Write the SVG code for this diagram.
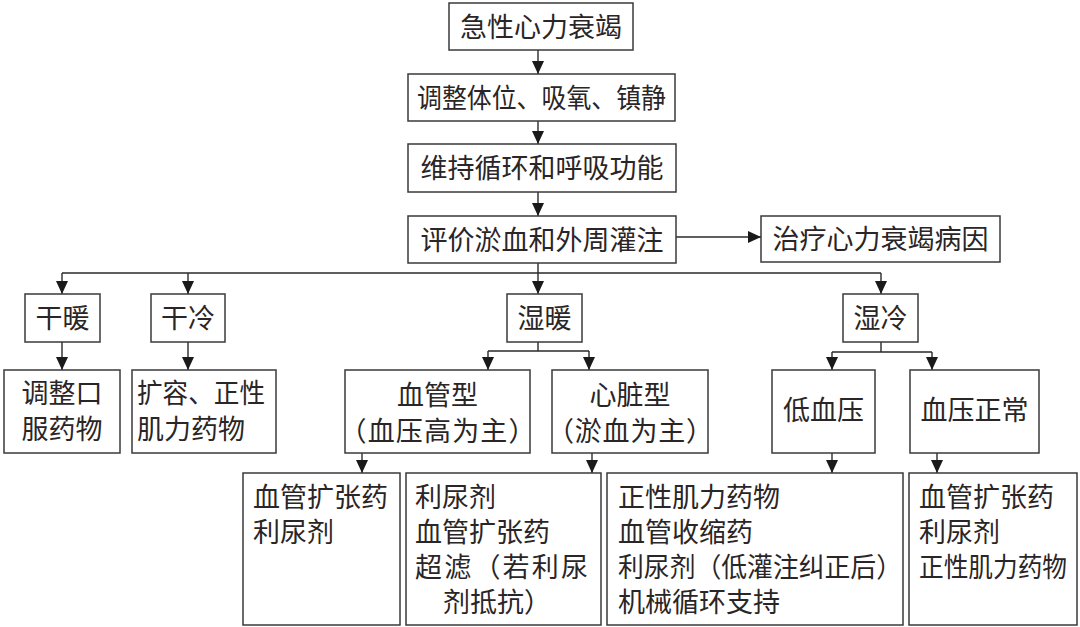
<svg xmlns="http://www.w3.org/2000/svg" width="1080" height="627" viewBox="0 0 1080 627">
<style>
.box{fill:#fff;stroke:#3a3a3a;stroke-width:1.5}
.ln{fill:none;stroke:#2a2a2a;stroke-width:1.4}
.t{font-family:"Noto Sans CJK SC","Noto Sans CJK JP",sans-serif;font-size:27px;fill:#2a2526}
.c{text-anchor:middle}
</style>
<defs>
<marker id="ah" markerUnits="userSpaceOnUse" markerWidth="13" markerHeight="12" refX="13" refY="6" orient="auto">
<path d="M0,0 L13,6 L0,12 z" fill="#1a1a1a"/>
</marker>
</defs>
<rect width="1080" height="627" fill="#fff"/>
<g id="connectors">
<path class="ln" d="M538,50 V74" marker-end="url(#ah)"/>
<path class="ln" d="M538,121 V144" marker-end="url(#ah)"/>
<path class="ln" d="M538,192 V216" marker-end="url(#ah)"/>
<path class="ln" d="M676,237 H761" marker-end="url(#ah)"/>
<path class="ln" d="M538,263 V273 M62,273 H881"/>
<path class="ln" d="M62,273 V294" marker-end="url(#ah)"/>
<path class="ln" d="M188,273 V294" marker-end="url(#ah)"/>
<path class="ln" d="M538,273 V294" marker-end="url(#ah)"/>
<path class="ln" d="M881,273 V294" marker-end="url(#ah)"/>
<path class="ln" d="M62,342 V370" marker-end="url(#ah)"/>
<path class="ln" d="M188,342 V370" marker-end="url(#ah)"/>
<path class="ln" d="M538,342 V351 M488,351 H589"/>
<path class="ln" d="M488,351 V370" marker-end="url(#ah)"/>
<path class="ln" d="M589,351 V370" marker-end="url(#ah)"/>
<path class="ln" d="M881,342 V352 M832,352 H932"/>
<path class="ln" d="M832,352 V370" marker-end="url(#ah)"/>
<path class="ln" d="M932,352 V370" marker-end="url(#ah)"/>
<path class="ln" d="M362,453 V473" marker-end="url(#ah)"/>
<path class="ln" d="M592,453 V473" marker-end="url(#ah)"/>
<path class="ln" d="M832,453 V473" marker-end="url(#ah)"/>
<path class="ln" d="M937,453 V473" marker-end="url(#ah)"/>
</g>
<g id="n1"><rect class="box" x="449" y="3" width="184" height="47"/><text class="t c" x="541" y="37">急性心力衰竭</text></g>
<g id="n2"><rect class="box" x="408" y="74" width="267" height="47"/><text class="t c" x="541.5" y="107.5" textLength="249" lengthAdjust="spacingAndGlyphs">调整体位、吸氧、镇静</text></g>
<g id="n3"><rect class="box" x="408" y="144" width="268" height="48"/><text class="t c" x="542" y="178">维持循环和呼吸功能</text></g>
<g id="n4"><rect class="box" x="408" y="216" width="268" height="47"/><text class="t c" x="542" y="249.5">评价淤血和外周灌注</text></g>
<g id="n5"><rect class="box" x="761" y="216" width="239" height="46"/><text class="t c" x="880.5" y="249">治疗心力衰竭病因</text></g>
<g id="n6"><rect class="box" x="25" y="294" width="75" height="48"/><text class="t c" x="62.5" y="328">干暖</text></g>
<g id="n7"><rect class="box" x="151" y="294" width="74" height="48"/><text class="t c" x="188" y="328">干冷</text></g>
<g id="n8"><rect class="box" x="507" y="294" width="75" height="48"/><text class="t c" x="544.5" y="328">湿暖</text></g>
<g id="n9"><rect class="box" x="843" y="294" width="75" height="48"/><text class="t c" x="880.5" y="328">湿冷</text></g>
<g id="n10"><rect class="box" x="4" y="370" width="116" height="83"/><text class="t c"><tspan x="62" y="403">调整口</tspan><tspan x="62" y="439">服药物</tspan></text></g>
<g id="n11"><rect class="box" x="132" y="370" width="144" height="83"/><text class="t"><tspan x="137" y="403" textLength="128" lengthAdjust="spacingAndGlyphs">扩容、正性</tspan><tspan x="137" y="439">肌力药物</tspan></text></g>
<g id="n12"><rect class="box" x="345" y="370" width="185" height="83"/><text class="t c"><tspan x="437.5" y="405">血管型</tspan><tspan x="437.5" y="441" textLength="196" lengthAdjust="spacing">（血压高为主）</tspan></text></g>
<g id="n13"><rect class="box" x="552" y="370" width="156" height="83"/><text class="t c"><tspan x="630" y="405">心脏型</tspan><tspan x="630" y="441" textLength="166" lengthAdjust="spacing">（淤血为主）</tspan></text></g>
<g id="n14"><rect class="box" x="772" y="370" width="103" height="83"/><text class="t c" x="823.5" y="419.5">低血压</text></g>
<g id="n15"><rect class="box" x="910" y="370" width="129" height="83"/><text class="t c" x="974.5" y="419.5">血压正常</text></g>
<g id="n16"><rect class="box" x="243" y="473" width="157" height="152"/><text class="t"><tspan x="253" y="507">血管扩张药</tspan><tspan x="253" y="542">利尿剂</tspan></text></g>
<g id="n17"><rect class="box" x="406" y="473" width="195" height="152"/><text class="t"><tspan x="415" y="507">利尿剂</tspan><tspan x="415" y="542">血管扩张药</tspan><tspan x="415" y="577" textLength="173" lengthAdjust="spacing">超滤（若利尿</tspan><tspan x="443" y="612">剂抵抗）</tspan></text></g>
<g id="n18"><rect class="box" x="607" y="473" width="296" height="152"/><text class="t"><tspan x="618" y="507">正性肌力药物</tspan><tspan x="618" y="542">血管收缩药</tspan><tspan x="618" y="577" textLength="284" lengthAdjust="spacingAndGlyphs">利尿剂（低灌注纠正后）</tspan><tspan x="618" y="612">机械循环支持</tspan></text></g>
<g id="n19"><rect class="box" x="909" y="473" width="168" height="152"/><text class="t"><tspan x="919" y="507">血管扩张药</tspan><tspan x="919" y="542">利尿剂</tspan><tspan x="919" y="577" textLength="148" lengthAdjust="spacingAndGlyphs">正性肌力药物</tspan></text></g>
</svg>
